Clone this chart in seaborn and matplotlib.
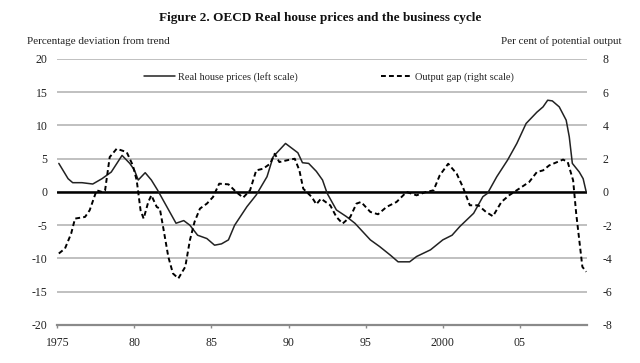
import matplotlib
matplotlib.use("Agg")
import matplotlib.pyplot as plt
import seaborn as sns
from matplotlib.lines import Line2D

# Real house prices, % deviation from trend (left scale)
house_years = [1975.1, 1975.7, 1976.0, 1976.6, 1977.3, 1977.9, 1978.5, 1979.2, 1979.7,
               1980.0, 1980.25, 1980.7, 1981.1, 1981.5, 1982.1, 1982.7, 1983.2, 1983.6,
               1984.1, 1984.7, 1985.2, 1985.65, 1986.1, 1986.5, 1987.3, 1987.9, 1988.6,
               1989.0, 1989.8, 1990.6, 1990.9, 1991.3, 1991.8, 1992.2, 1992.5, 1993.1,
               1993.75, 1994.3, 1995.3, 1995.9, 1996.6, 1997.1, 1997.85, 1998.3, 1999.2,
               2000.0, 2000.6, 2001.1, 2002.0, 2002.6, 2002.9, 2003.5, 2004.2, 2004.8,
               2005.4, 2006.1, 2006.5, 2006.8, 2007.1, 2007.55, 2008.0, 2008.2, 2008.4,
               2008.85, 2009.1, 2009.3]
house_values = [4.3, 2.0, 1.4, 1.4, 1.2, 2.0, 3.0, 5.5, 4.3,
                3.3, 1.8, 2.9, 1.8, 0.3, -2.2, -4.7, -4.3, -5.0,
                -6.5, -7.0, -8.0, -7.8, -7.2, -5.0, -2.2, -0.45, 2.3,
                5.3, 7.3, 5.9, 4.4, 4.3, 3.1, 1.8, -0.2, -2.7,
                -3.7, -4.7, -7.2, -8.2, -9.5, -10.5, -10.5, -9.7, -8.7,
                -7.2, -6.5, -5.2, -3.2, -0.7, -0.2, 2.3, 4.8, 7.3,
                10.3, 12.0, 12.8, 13.8, 13.7, 12.8, 10.8, 8.3, 4.3,
                3.0, 2.0, 0.0]

# Output gap, per cent of potential output (right scale)
gap_years = [1975.1, 1975.5, 1975.9, 1976.15, 1976.8, 1977.1, 1977.55, 1977.9, 1978.1,
             1978.4, 1978.85, 1979.5, 1979.9, 1980.15, 1980.4, 1980.6, 1980.9, 1981.1,
             1981.45, 1981.65, 1981.9, 1982.2, 1982.5, 1982.85, 1983.3, 1983.6, 1983.9,
             1984.25, 1984.7, 1985.1, 1985.5, 1986.1, 1986.6, 1987.05, 1987.5, 1987.9,
             1988.35, 1988.8, 1989.1, 1989.4, 1990.1, 1990.4, 1990.7, 1990.95, 1991.5,
             1991.8, 1992.1, 1992.7, 1993.1, 1993.5, 1994.0, 1994.4, 1994.7, 1995.3,
             1995.8, 1996.35, 1997.0, 1997.65, 1998.3, 1998.9, 1999.4, 1999.8, 2000.35,
             2000.9, 2001.3, 2001.75, 2002.3, 2002.8, 2003.25, 2003.8, 2004.3, 2004.95,
             2005.6, 2006.1, 2006.5, 2006.9, 2007.8, 2008.1, 2008.45, 2008.65, 2008.9,
             2009.05, 2009.3]
gap_values = [-3.7, -3.4, -2.5, -1.6, -1.5, -1.1, 0.1, 0.0, 0.1,
              2.1, 2.6, 2.4, 1.6, 0.7, -1.1, -1.6, -0.6, -0.2,
              -0.9, -1.0, -2.3, -3.9, -4.9, -5.2, -4.5, -2.9, -1.8,
              -1.0, -0.7, -0.3, 0.5, 0.46, 0.0, -0.34, 0.1, 1.3,
              1.4, 1.7, 2.3, 1.8, 1.95, 2.0, 1.3, 0.2, -0.3,
              -0.74, -0.4, -0.8, -1.5, -1.9, -1.5, -0.7, -0.6, -1.2,
              -1.34, -0.9, -0.6, 0.0, -0.2, 0.0, 0.1, 1.0, 1.7,
              1.1, 0.3, -0.8, -0.8, -1.2, -1.46, -0.6, -0.2, 0.2,
              0.6, 1.2, 1.3, 1.6, 1.95, 1.8, 0.7, -1.3, -3.3,
              -4.5, -4.8]

x_ticks = [1975, 1980, 1985, 1990, 1995, 2000, 2005]
x_tick_labels = ["1975", "80", "85", "90", "95", "2000", "05"]
left_ticks = [-20, -15, -10, -5, 0, 5, 10, 15, 20]
right_ticks = [-8, -6, -4, -2, 0, 2, 4, 6, 8]

sns.set_theme(style="white")
plt.rcParams["font.family"] = ["Liberation Serif", "DejaVu Serif"]

fig = plt.figure(figsize=(6.4, 3.63), dpi=100)
ax = fig.add_axes([0.0895, 0.1047, 0.8272, 0.7328])
ax2 = ax.twinx()

# grid and zero line
for v in left_ticks[1:]:
    ax.axhline(v, color="#c0c0c0", lw=1.4, zorder=0)
ax.axhline(0, color="black", lw=1.8, zorder=1)

sns.lineplot(x=house_years, y=house_values, ax=ax, color="#222222", lw=1.1, zorder=3)
sns.lineplot(x=gap_years, y=gap_values, ax=ax2, color="black", lw=1.4,
             linestyle=(0, (2.5, 1.6)), zorder=3)

ax.set_xlim(1975, 2009.33)
ax.set_ylim(-20, 20)
ax2.set_ylim(-8, 8)
ax.set_xticks(x_ticks)
ax.set_xticklabels(x_tick_labels)
ax.set_yticks(left_ticks)
ax.set_yticklabels([str(t) for t in left_ticks])
ax2.set_yticks(right_ticks)
ax2.set_yticklabels([str(t) for t in right_ticks])

for a in (ax, ax2):
    for s in ["top", "left", "right"]:
        a.spines[s].set_visible(False)
    a.spines["bottom"].set_visible(False)
ax.spines["bottom"].set_visible(True)
ax.spines["bottom"].set_color("#8a8a8a")
ax.spines["bottom"].set_linewidth(1.6)

ax.tick_params(axis="x", bottom=True, length=2.5, width=1, color="#8a8a8a",
               pad=6, labelsize=8.5, labelcolor="#222222")
ax.tick_params(axis="y", left=False, length=0, pad=7, labelsize=8.5, labelcolor="#222222")
ax2.tick_params(axis="y", right=False, length=0, pad=11.5, labelsize=8.5, labelcolor="#222222")
ax.set_xlabel("")
ax.set_ylabel("")
ax2.set_ylabel("")

handles = [Line2D([], [], color="#222222", lw=1.1),
           Line2D([], [], color="black", lw=1.4, linestyle=(0, (2.5, 1.6)))]
labels = ["Real house prices (left scale)", "Output gap (right scale)"]
ax2.legend(handles, labels, loc="center", bbox_to_anchor=(0.513, 0.932), ncol=2,
           frameon=False, fontsize=7.5, handlelength=3.0, handletextpad=0.3,
           columnspacing=8.0)

fig.text(0.5, 1 - 18.4 / 363, "Figure 2. OECD Real house prices and the business cycle",
         ha="center", va="center", fontsize=9.5, fontweight="bold", color="#111111")
fig.text(27 / 640, 1 - 41 / 363, "Percentage deviation from trend",
         ha="left", va="center", fontsize=8, color="#222222")
fig.text(621.7 / 640, 1 - 41 / 363, "Per cent of potential output",
         ha="right", va="center", fontsize=8, color="#222222")

fig.savefig("out.png", dpi=100)
